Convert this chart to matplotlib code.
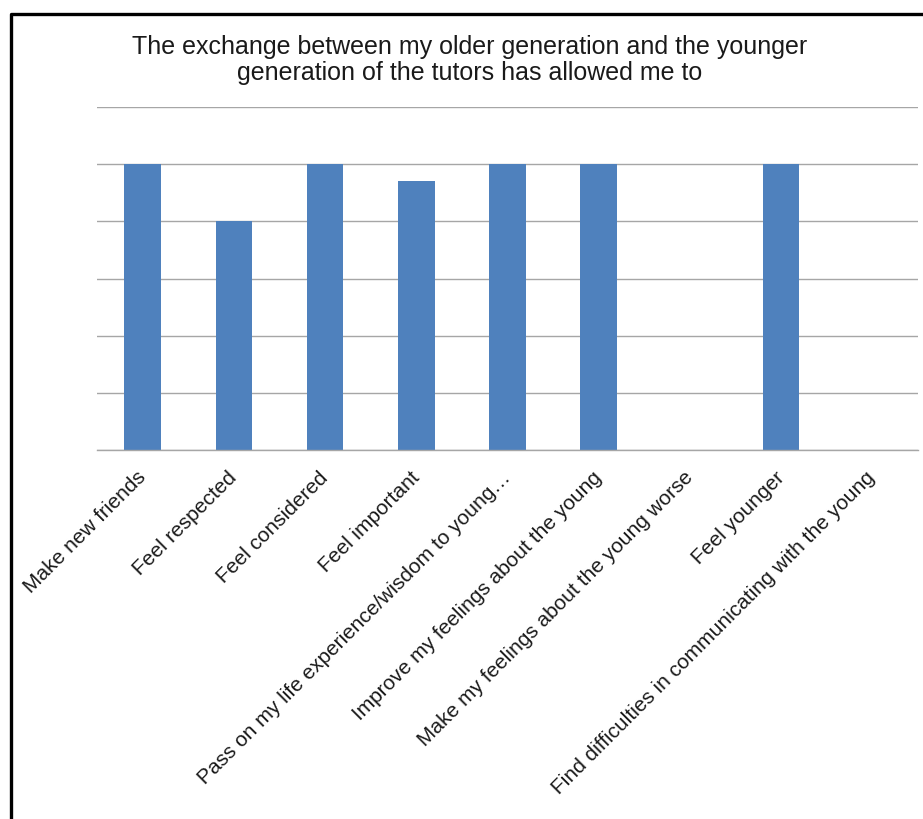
import matplotlib
matplotlib.use("Agg")
import matplotlib.pyplot as plt
from matplotlib.lines import Line2D
import numpy as np

plt.rcParams['font.family'] = ['Liberation Sans', 'DejaVu Sans']

categories = [
    "Make new friends",
    "Feel respected",
    "Feel considered",
    "Feel important",
    "Pass on my life experience/wisdom to young\u2026",
    "Improve my feelings about the young",
    "Make my feelings about the young worse",
    "Feel younger",
    "Find difficulties in communicating with the young",
]
values = [5, 4, 5, 4.7, 5, 5, 0, 5, 0]

W, H = 923, 820
fig = plt.figure(figsize=(W / 100, H / 100), dpi=100)
ax = fig.add_axes([97 / W, 1 - 451 / H, (918 - 97) / W, (451 - 108) / H])

x = np.arange(len(categories))
ax.bar(x, values, width=0.4, color="#4f81bd", zorder=2)

ax.set_xlim(-0.5, len(categories) - 0.5)
ax.set_ylim(0, 6)
ax.set_yticks(np.arange(0, 7, 1))
ax.yaxis.grid(True, color="#a6a6a6", linewidth=1.0, zorder=0)
ax.tick_params(axis="y", length=0, labelleft=False)
ax.tick_params(axis="x", length=0, pad=17)
for side in ["top", "right", "left"]:
    ax.spines[side].set_visible(False)
ax.spines["bottom"].set_color("#a6a6a6")
ax.spines["bottom"].set_linewidth(1.0)

ax.set_xticks(x)
ax.set_xticklabels(categories, rotation=45, ha="right", va="center",
                   rotation_mode="anchor", fontsize=15, color="#1a1a1a")

fig.text(470 / W, 1 - 60 / H,
         "The exchange between my older generation and the younger\n"
         "generation of the tutors has allowed me to",
         ha="center", va="center", fontsize=18, color="#1a1a1a",
         linespacing=1.15)

# border round the chart area (left and top edges)
fig.add_artist(Line2D([10.5 / W, 10.5 / W, 1.0], [0.0, 1 - 14.5 / H, 1 - 14.5 / H],
                      transform=fig.transFigure, color="black", linewidth=2.4))

fig.savefig("out.png", dpi=100, facecolor="white")
